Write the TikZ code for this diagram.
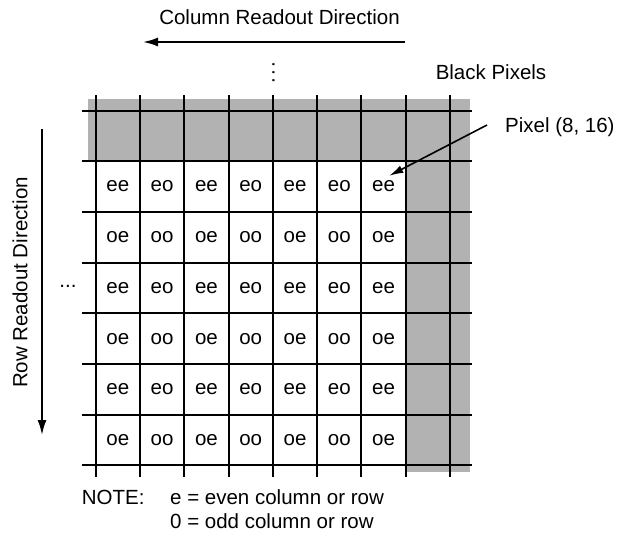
\documentclass[tikz,border=0pt]{standalone}
\usepackage{fontspec}
\setmainfont{Liberation Sans}
\usetikzlibrary{arrows.meta}
\begin{document}
\begin{tikzpicture}[x=1pt,y=-1pt,
  every node/.style={font=\fontsize{20.5pt}{24pt}\selectfont, inner sep=0pt},
  gridline/.style={line width=2pt, black},
  shadeband/.style={fill=black!30, draw=none},
  readarrow/.style={line width=2pt, -{Latex[length=15pt,width=9pt]}},
  pointer/.style={line width=1.6pt, -{Latex[length=14pt,width=8pt]}},
  ]
\useasboundingbox (0,0) rectangle (618,544);
% gray black-pixel bands
\fill[shadeband] (88,99) rectangle (470,161.2);
\fill[shadeband] (406,99) rectangle (470,472);
% grid
\foreach \k in {0,...,7} \draw[gridline] (82,110.5+50.7*\k) -- (472,110.5+50.7*\k);
\foreach \j in {0,...,8} \draw[gridline] (95.7+44.29*\j,95) -- (95.7+44.29*\j,477);
% cell labels
\foreach \r in {0,...,5}{
  \foreach \c in {0,...,6}{
    \node (c-\r-\c) at (95.7+44.29*\c+22.15, 110.5+50.7*\r+76.05)
      {\ifodd\r o\else e\fi\ifodd\c o\else e\fi};
  }
}
% ellipses
\node[anchor=base] (hdots) at (68,287.5) {...};
\node[rotate=90, anchor=base] (vdots) at (274.5,73) {.\kern2.3pt.\kern2.3pt.};
% column readout
\node (coltext) at (279.5,17.5) {Column Readout Direction};
\coordinate (colR) at (405,42);
\coordinate (colL) at (143,42);
\draw[readarrow] (colR) -- (colL);
% row readout
\node[rotate=90] (rowtext) at (20,282.5) {Row Readout Direction};
\coordinate (rowT) at (42,129);
\coordinate (rowB) at (42,435);
\draw[readarrow] (rowT) -- (rowB);
% labels
\node (black) at (491,72.5) {Black Pixels};
\node[anchor=base west] (pxl) at (505,132.3) {Pixel (8, 16)};
\draw[pointer] ([xshift=-18pt,yshift=2pt]pxl.west) -- ([xshift=5.7pt,yshift=5pt]c-0-6.north);
% note
\node[anchor=base west] (note) at (81.7,504) {NOTE:};
\node[anchor=base west] (note1) at (170,504) {e = even column or row};
\node[anchor=base west] (note2) at (170,528) {0 = odd column or row};
\end{tikzpicture}
\end{document}
